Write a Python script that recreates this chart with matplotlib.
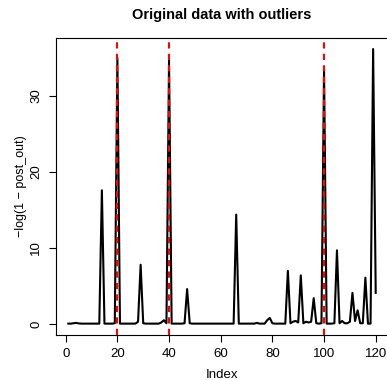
import numpy as np
import matplotlib
matplotlib.use("Agg")
import matplotlib.pyplot as plt

# -log(1 - post_out) for each index 1..120
post_vals = [
    0.05, 0.05, 0.1, 0.15, 0.08, 0.05, 0.05, 0.05, 0.05, 0.05,   # 1-10
    0.05, 0.05, 0.05, 17.6, 0.05, 0.05, 0.05, 0.05, 0.1, 35.0,   # 11-20
    0.05, 0.05, 0.05, 0.05, 0.05, 0.05, 0.05, 0.3, 7.8, 0.1,     # 21-30
    0.05, 0.05, 0.05, 0.05, 0.05, 0.05, 0.2, 0.5, 0.1, 34.7,     # 31-40
    0.05, 0.05, 0.05, 0.05, 0.05, 0.1, 4.6, 0.1, 0.05, 0.05,     # 41-50
    0.05, 0.05, 0.05, 0.05, 0.05, 0.05, 0.05, 0.05, 0.05, 0.05,  # 51-60
    0.05, 0.05, 0.05, 0.05, 0.05, 14.4, 0.05, 0.05, 0.05, 0.05,  # 61-70
    0.05, 0.05, 0.05, 0.15, 0.05, 0.05, 0.05, 0.5, 0.8, 0.1,     # 71-80
    0.05, 0.05, 0.05, 0.05, 0.05, 7.0, 0.1, 0.3, 0.4, 0.2,       # 81-90
    6.4, 0.1, 0.3, 0.2, 0.3, 3.4, 0.1, 0.05, 0.1, 33.5,          # 91-100
    0.05, 0.05, 0.05, 0.1, 9.7, 0.1, 0.4, 0.1, 0.1, 0.3,         # 101-110
    4.1, 0.4, 1.8, 0.1, 0.1, 6.1, 0.05, 0.05, 36.2, 4.1,         # 111-120
]
outlier_idx = [20, 40, 100]
x_ticks = [0, 20, 40, 60, 80, 100, 120]
y_ticks = [0, 10, 20, 30]

plt.rcParams['font.family'] = ['Liberation Sans', 'DejaVu Sans']

idx = np.arange(1, len(post_vals) + 1)

fig = plt.figure(figsize=(3.87, 3.80), dpi=100)
ax = fig.add_axes([0.1447, 0.1184, 0.8579, 0.7816])

ax.plot(idx, post_vals, color="black", linewidth=1.5)
for o in outlier_idx:
    ax.axvline(o, color="red", linestyle=(0, (3, 2.5)), linewidth=1.5)

# R style 4% padding
ymax = max(post_vals)
ax.set_xlim(1 - 0.04 * 119, 120 + 0.04 * 119)
ax.set_ylim(-0.04 * ymax, ymax * 1.04)

ax.set_xticks(x_ticks)
ax.set_yticks(y_ticks)
ax.set_yticklabels([str(t) for t in y_ticks], rotation=90, va="center")
ax.tick_params(axis="x", direction="out", length=5, width=0.8, labelsize=9.5, pad=4)
ax.tick_params(axis="y", direction="out", length=5, width=0.8, labelsize=9.5, pad=5)
for s in ax.spines.values():
    s.set_linewidth(0.8)

ax.set_xlabel("Index", fontsize=9.5, labelpad=7)
ax.set_ylabel("\u2212log(1 \u2212 post_out)", fontsize=9, labelpad=2)
ax.set_title("Original data with outliers", fontsize=10.5, fontweight="bold", pad=14)

fig.savefig("out.png", dpi=100)
